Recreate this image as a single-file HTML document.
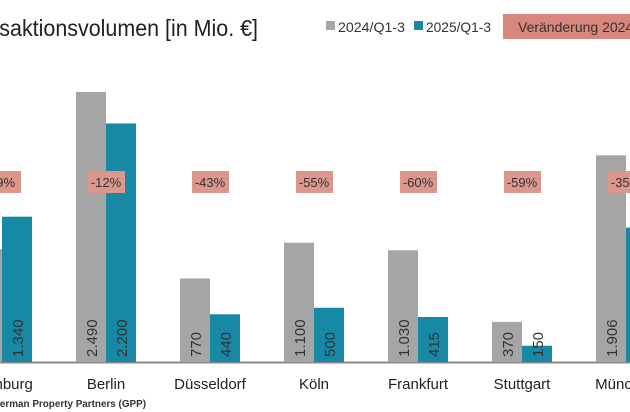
<!DOCTYPE html>
<html><head><meta charset="utf-8"><style>
body{margin:0;width:630px;height:412px;overflow:hidden;background:#fff;font-family:"Liberation Sans",sans-serif}
svg{display:block}
</style></head><body>
<svg id="c" width="630" height="412">
<text x="-44" y="36" font-size="23" fill="#222" textLength="302" lengthAdjust="spacingAndGlyphs">Transaktionsvolumen [in Mio. €]</text>
<rect x="326" y="21" width="9" height="9" fill="#a5a5a5"/>
<text x="338" y="32" font-size="14" fill="#333" textLength="67" lengthAdjust="spacingAndGlyphs">2024/Q1-3</text>
<rect x="414" y="21" width="9" height="9" fill="#1789a5"/>
<text x="426" y="32" font-size="14" fill="#333" textLength="65" lengthAdjust="spacingAndGlyphs">2025/Q1-3</text>
<rect x="503" y="14" width="140" height="25" fill="#d9877c"/>
<text x="518" y="32" font-size="14" fill="#333">Veränderung 2024</text>
<line x1="0" y1="362.5" x2="630" y2="362.5" stroke="#888" stroke-width="2"/>
<g id="marks"></g>
<text x="146" y="407" text-anchor="end" font-size="10.5" font-weight="bold" fill="#333" textLength="190" lengthAdjust="spacingAndGlyphs">Quelle: German Property Partners (GPP)</text>
</svg>
<script>
const categories=["Hamburg","Berlin","Düsseldorf","Köln","Frankfurt","Stuttgart","München"];
const values2024=[1040,2490,770,1100,1030,370,1906];
const values2025=[1340,2200,440,500,415,150,1240];
const labels2024=["1.040","2.490","770","1.100","1.030","370","1.906"];
const labels2025=["1.340","2.200","440","500","415","150","1.240"];
const changes=["29%","-12%","-43%","-55%","-60%","-59%","-35%"];
const NS="http://www.w3.org/2000/svg";
const g=document.getElementById("marks");
const base=362, k=270/2490;
const y=v=>base-v*k;
const cx=i=>2+i*104;
function mk(t,a){const e=document.createElementNS(NS,t);for(const n in a)e.setAttribute(n,a[n]);g.appendChild(e);return e;}
categories.forEach((c,i)=>{
  const x=cx(i);
  const b1=mk("rect",{x:x-30,y:y(values2024[i]),width:30,height:values2024[i]*k,fill:"#a5a5a5"});
  
  
  const b2=mk("rect",{x:x,y:y(values2025[i]),width:30,height:values2025[i]*k,fill:"#1789a5"});
  
  
  const t1=mk("text",{transform:`translate(${x-9},${base-5}) rotate(-90)`,"font-size":"15",fill:"#333"});
  t1.textContent=labels2024[i];
  
  
  const t2=mk("text",{transform:`translate(${x+21},${base-5}) rotate(-90)`,"font-size":"15",fill:"#333"});
  t2.textContent=labels2025[i];
  
  
  const bx=mk("rect",{x:x-18,y:171,width:37,height:22,fill:"#dd968b"});
  
  
  const ct=mk("text",{x:x,y:187,"text-anchor":"middle","font-size":"13",fill:"#333"});
  ct.textContent=changes[i];
  
  
  const cl=mk("text",{x:x,y:389,"text-anchor":"middle","font-size":"15",fill:"#222"});
  cl.textContent=c;
  
  
});
</script>
</body></html>
